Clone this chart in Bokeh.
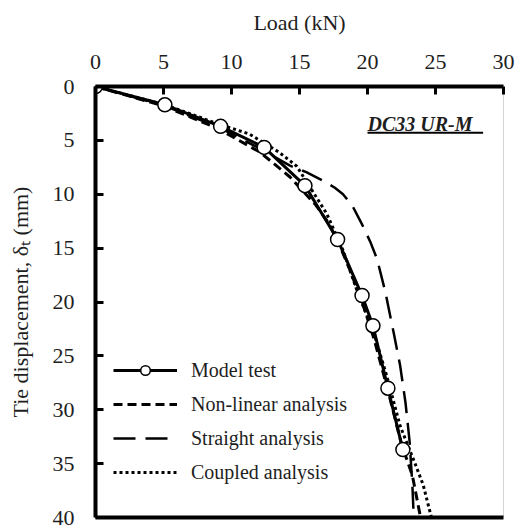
from bokeh.plotting import figure
from bokeh.models import Range1d, FixedTicker, LinearAxis, Legend, LegendItem, Label
from bokeh.embed import file_html
from bokeh.resources import INLINE

load_ticks = [0, 5, 10, 15, 20, 25, 30]
disp_ticks = [0, 5, 10, 15, 20, 25, 30, 35, 40]

test_load = [0, 5.1, 9.2, 12.4, 15.4, 17.8, 19.6, 20.4, 21.5, 22.6]
test_disp = [0, 1.7, 3.7, 5.65, 9.2, 14.2, 19.4, 22.2, 28.0, 33.7]

nonlin_load = [0, 5, 9, 12.1, 14.3, 15.1, 16.2, 17.1, 17.8, 18.7, 19.6, 20.5, 21.5, 22.5, 23.3, 23.9]
nonlin_disp = [0, 1.8, 3.9, 6.1, 8.4, 9.5, 11.0, 12.6, 14.3, 17.0, 20.0, 23.5, 28.2, 33.2, 36.1, 40]

straight_load = [0, 5, 9, 12, 14.3, 15.5, 16.8, 17.6, 18.2, 18.9, 19.6, 20.2, 20.7, 21.3, 21.9, 22.4, 22.8, 23.1, 23.3, 23.4]
straight_disp = [0, 1.75, 3.75, 5.7, 7.35, 7.95, 8.8, 9.4, 10.0, 11.1, 12.8, 14.4, 16.0, 19.0, 22.7, 25.9, 29.4, 33.0, 37.0, 40]

coupled_load = [0, 5.1, 9.2, 11.3, 13.5, 14.8, 15.8, 17.0, 18.2, 19.3, 20.4, 21.4, 22.4, 23.5, 24.1, 24.7]
coupled_disp = [0, 1.7, 3.55, 4.4, 6.1, 7.4, 9.4, 11.8, 15.2, 19.2, 22.6, 26.8, 31.5, 35.0, 37.0, 40]

FONT = "Liberation Serif"
INK = "#1e1e1e"

p = figure(width=525, height=530, x_range=Range1d(0, 30), y_range=Range1d(40, 0),
           x_axis_location="above", y_axis_location="left",
           output_backend="svg", toolbar_location=None,
           min_border_left=95, min_border_top=86, min_border_right=22, min_border_bottom=13)
p.grid.visible = False
p.outline_line_color = "#d4d4d4"
p.outline_line_width = 1
p.background_fill_color = "white"
p.border_fill_color = "white"

xax = p.xaxis[0]
yax = p.yaxis[0]
for ax, ticks in ((xax, load_ticks), (yax, disp_ticks)):
    ax.ticker = FixedTicker(ticks=ticks)
    ax.axis_line_width = 4
    ax.axis_line_color = "black"
    ax.major_tick_in = 8
    ax.major_tick_out = 0
    ax.major_tick_line_width = 3
    ax.minor_tick_line_color = None
    ax.major_label_text_font = FONT
    ax.major_label_text_font_style = "normal"
    ax.major_label_text_font_size = "22px"
    ax.major_label_text_color = INK
    ax.axis_label_text_font = FONT
    ax.axis_label_text_font_style = "normal"
    ax.axis_label_text_font_size = "22px"
    ax.axis_label_text_color = INK

xax.update(axis_label="Load (kN)", major_label_standoff=18, axis_label_standoff=17)
yax.update(axis_label="Tie displacement, \u03b4\u209c (mm)", major_label_standoff=21,
           axis_label_standoff=17)

bottom = LinearAxis(ticker=FixedTicker(ticks=[]), axis_line_width=4, axis_line_color="black",
                    major_tick_line_color=None, minor_tick_line_color=None)
p.add_layout(bottom, "below")

r_non = p.line(nonlin_load, nonlin_disp, line_color="black", line_width=3, line_dash="9 5")
r_str = p.line(straight_load, straight_disp, line_color="black", line_width=2.5, line_dash="22 10")
r_cou = p.line(coupled_load, coupled_disp, line_color="black", line_width=3, line_dash="3 3")
r_tl = p.line(test_load, test_disp, line_color="black", line_width=3)
r_tc = p.scatter(test_load, test_disp, marker="circle", size=14, fill_color="white",
                 line_color="black", line_width=1.5)

legend = Legend(items=[
    LegendItem(label="Model test", renderers=[r_tl, r_tc]),
    LegendItem(label="Non-linear analysis", renderers=[r_non]),
    LegendItem(label="Straight analysis", renderers=[r_str]),
    LegendItem(label="Coupled analysis", renderers=[r_cou]),
], location=(18, 33), orientation="vertical")
legend.border_line_color = None
legend.background_fill_alpha = 0
legend.padding = 0
legend.margin = 0
legend.glyph_width = 64
legend.glyph_height = 24
legend.spacing = 10
legend.label_standoff = 14
legend.label_text_font = FONT
legend.label_text_font_size = "20px"
legend.label_text_color = INK
p.add_layout(legend, "center")

tag = Label(x=20.0, y=3.5, text="DC33 UR-M", text_font=FONT, text_font_size="20px",
            text_font_style="bold italic", text_baseline="middle", text_align="left",
            text_color=INK)
p.add_layout(tag)
p.segment(x0=[20.0], y0=[4.3], x1=[28.5], y1=[4.3], line_color="black", line_width=2)

open("out.html", "w").write(file_html(p, INLINE))
